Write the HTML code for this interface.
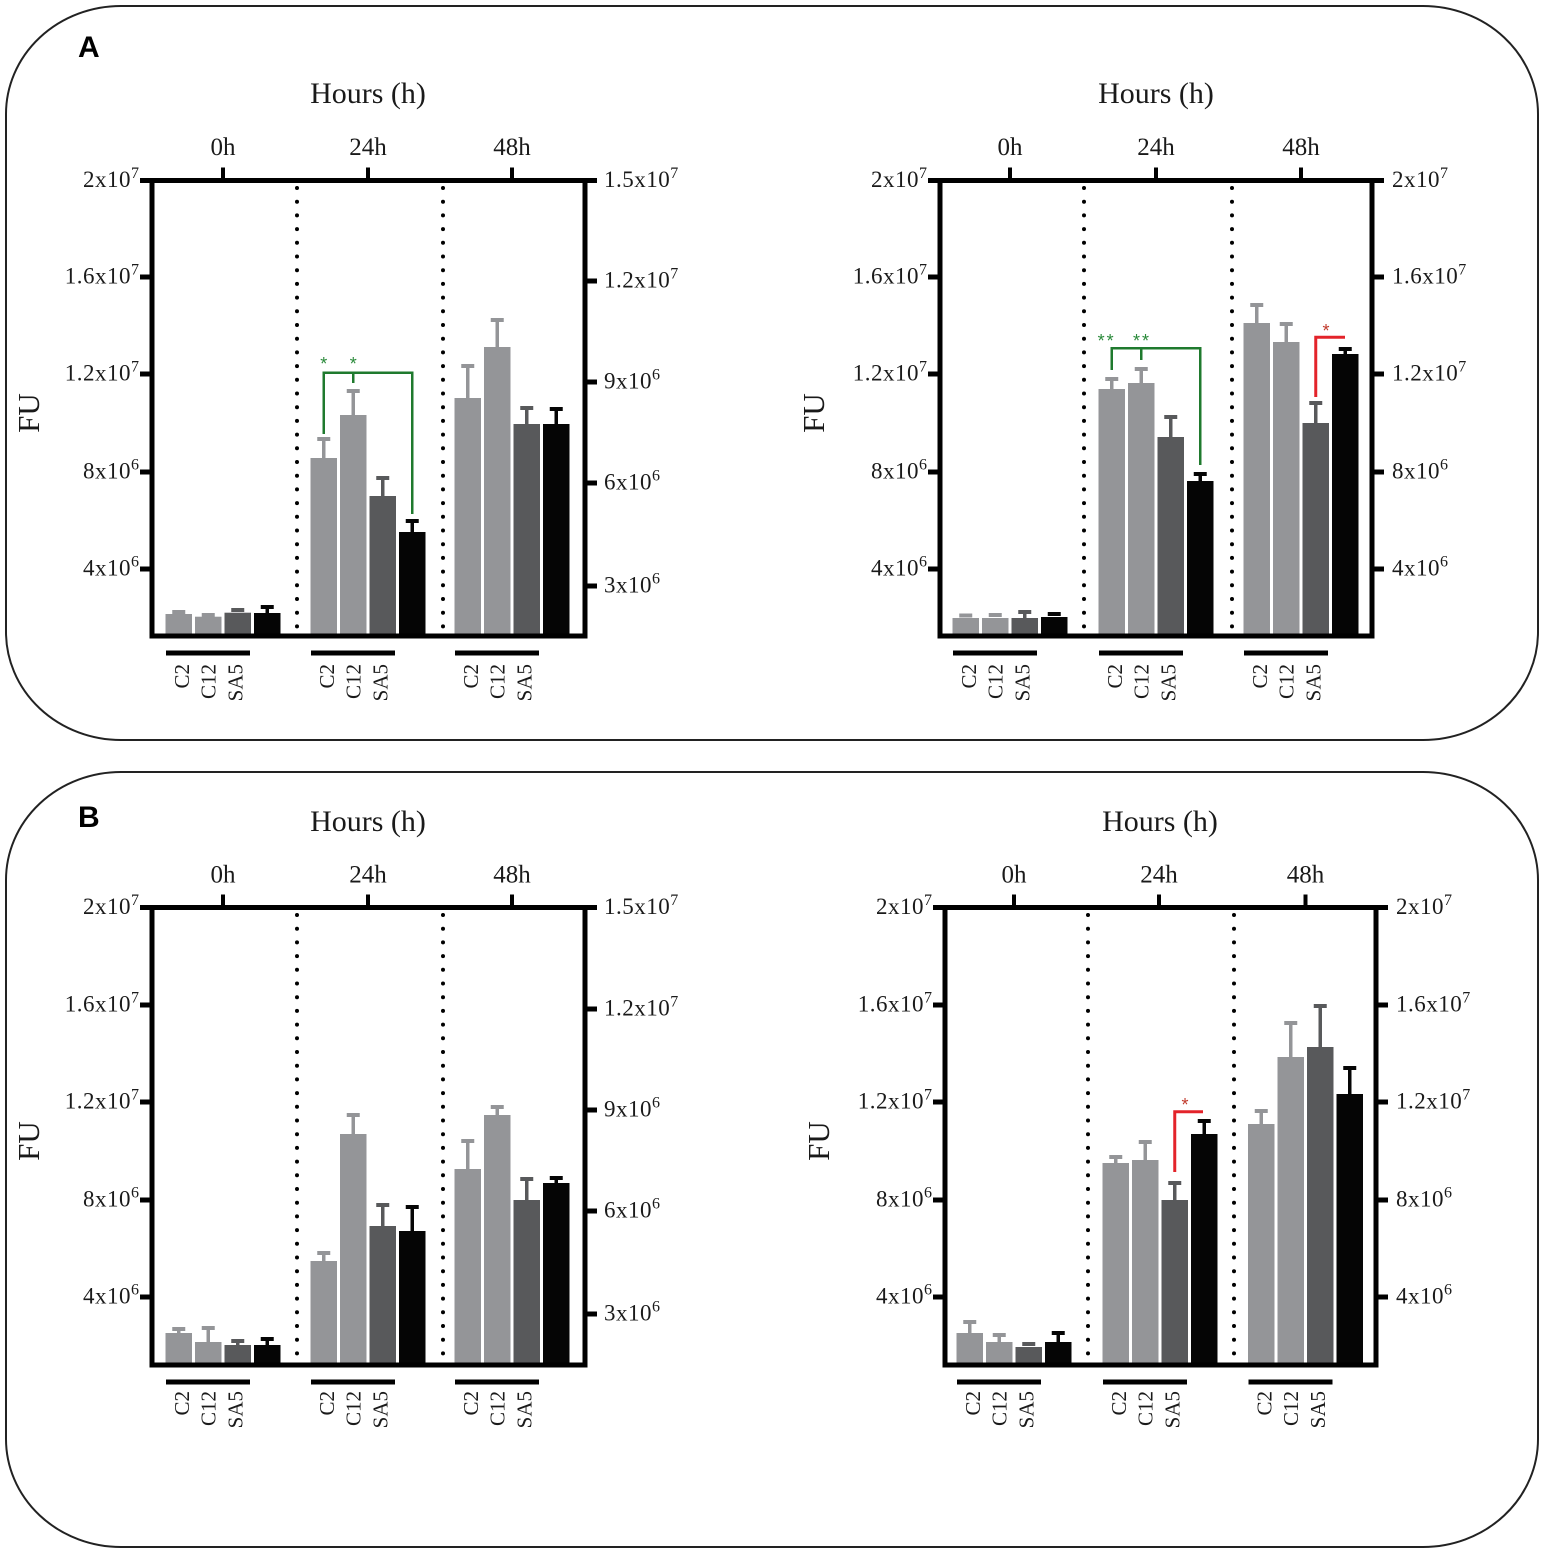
<!DOCTYPE html>
<html><head><meta charset="utf-8"><style>
html,body{margin:0;padding:0;background:#fff;}
svg{display:block;}
.t{font-family:"Liberation Serif",serif;font-size:23px;letter-spacing:0.5px;fill:#1a1a1a;}
.s{font-size:16px;letter-spacing:0;}
.h{font-family:"Liberation Serif",serif;font-size:25px;fill:#1a1a1a;text-anchor:middle;}
.hr{font-family:"Liberation Serif",serif;font-size:30px;fill:#1a1a1a;text-anchor:middle;}
.fu{font-family:"Liberation Serif",serif;font-size:31px;fill:#1a1a1a;text-anchor:middle;}
.g{font-family:"Liberation Serif",serif;font-size:21px;fill:#1a1a1a;text-anchor:end;}
.pl{font-family:"Liberation Sans",sans-serif;font-size:30px;font-weight:bold;fill:#000;}
.st{font-family:"Liberation Sans",sans-serif;font-size:18px;text-anchor:middle;}
</style></head><body>
<svg width="1547" height="1555" viewBox="0 0 1547 1555" xmlns="http://www.w3.org/2000/svg">
<rect x="0" y="0" width="1547" height="1555" fill="#fff"/>
<!-- panel borders -->
<rect x="6" y="6" width="1532" height="734" rx="115" ry="108" fill="none" stroke="#222" stroke-width="2"/>
<rect x="6" y="772" width="1532" height="775" rx="115" ry="108" fill="none" stroke="#222" stroke-width="2"/>
<text class="pl" x="78" y="57">A</text>
<text class="pl" x="78" y="827">B</text>

<!-- ================= A LEFT ================= -->
<text class="hr" x="368" y="103">Hours (h)</text>
<text class="h" x="223" y="155">0h</text><text class="h" x="368" y="155">24h</text><text class="h" x="512" y="155">48h</text>
<g stroke="#000" stroke-width="4"><line x1="223" y1="167.5" x2="223" y2="180.5"/><line x1="368" y1="167.5" x2="368" y2="180.5"/><line x1="512" y1="167.5" x2="512" y2="180.5"/></g>
<text class="fu" transform="translate(39,413) rotate(-90)">FU</text>
<g stroke="#000" stroke-width="4" stroke-linecap="round" stroke-dasharray="0 13.7"><line x1="297" y1="188" x2="297" y2="632"/><line x1="443" y1="188" x2="443" y2="632"/></g>
<!-- bars -->
<g fill="#949598"><rect x="165.5" y="614" width="26.5" height="22"/><rect x="195" y="616.7" width="26.5" height="19.3"/><rect x="310.5" y="458" width="26.5" height="178"/><rect x="340" y="415" width="26.5" height="221"/><rect x="454.5" y="398" width="26.5" height="238"/><rect x="484" y="347" width="26.5" height="289"/>
<rect x="172.25" y="610" width="13" height="4"/><rect x="201.75" y="613" width="13" height="4"/><rect x="317.25" y="437" width="13" height="4"/><rect x="346.75" y="389" width="13" height="4"/><rect x="461.25" y="364" width="13" height="4"/><rect x="490.75" y="318" width="13" height="4"/></g>
<g stroke="#949598" stroke-width="3.5"><line x1="323.75" y1="439" x2="323.75" y2="458"/><line x1="353.25" y1="391" x2="353.25" y2="415"/><line x1="467.75" y1="366" x2="467.75" y2="398"/><line x1="497.25" y1="320" x2="497.25" y2="347"/></g>
<g fill="#58595b"><rect x="224.5" y="612.7" width="26.5" height="23.3"/><rect x="369.5" y="496" width="26.5" height="140"/><rect x="513.5" y="424" width="26.5" height="212"/>
<rect x="231.25" y="608" width="13" height="4"/><rect x="376.25" y="476" width="13" height="4"/><rect x="520.25" y="406" width="13" height="4"/></g>
<g stroke="#58595b" stroke-width="3.5"><line x1="382.75" y1="478" x2="382.75" y2="496"/><line x1="526.75" y1="408" x2="526.75" y2="424"/></g>
<g fill="#050505"><rect x="254" y="613" width="26.5" height="23"/><rect x="399" y="532" width="26.5" height="104"/><rect x="543" y="424" width="26.5" height="212"/>
<rect x="260.75" y="605" width="13" height="4"/><rect x="405.75" y="519" width="13" height="4"/><rect x="549.75" y="407" width="13" height="4"/></g>
<g stroke="#050505" stroke-width="3.5"><line x1="267.25" y1="607" x2="267.25" y2="613"/><line x1="412.25" y1="521" x2="412.25" y2="532"/><line x1="556.25" y1="409" x2="556.25" y2="424"/></g>
<!-- bracket -->
<g fill="none" stroke="#1f7a2e" stroke-width="2.5"><path d="M323.75 434 V372.7 H412.25 V514"/><path d="M353.25 372.7 V383"/></g>
<text class="st" x="323.75" y="370" fill="#2a8a3a">*</text><text class="st" x="353.25" y="370" fill="#2a8a3a">*</text>
<!-- frame -->
<rect x="152" y="180.5" width="433" height="455.5" fill="none" stroke="#000" stroke-width="5"/>
<g stroke="#000" stroke-width="5"><line x1="140" y1="180.5" x2="152" y2="180.5"/><line x1="140" y1="277" x2="152" y2="277"/><line x1="140" y1="374" x2="152" y2="374"/><line x1="140" y1="472" x2="152" y2="472"/><line x1="140" y1="569" x2="152" y2="569"/>
<line x1="585" y1="180.5" x2="597" y2="180.5"/><line x1="585" y1="281" x2="597" y2="281"/><line x1="585" y1="382" x2="597" y2="382"/><line x1="585" y1="483" x2="597" y2="483"/><line x1="585" y1="586" x2="597" y2="586"/></g>
<g class="t" text-anchor="end"><text x="139" y="187">2x10<tspan class="s" dy="-9">7</tspan></text><text x="139" y="283.5">1.6x10<tspan class="s" dy="-9">7</tspan></text><text x="139" y="380.5">1.2x10<tspan class="s" dy="-9">7</tspan></text><text x="139" y="478.5">8x10<tspan class="s" dy="-9">6</tspan></text><text x="139" y="575.5">4x10<tspan class="s" dy="-9">6</tspan></text></g>
<g class="t"><text x="604" y="187">1.5x10<tspan class="s" dy="-9">7</tspan></text><text x="604" y="287.5">1.2x10<tspan class="s" dy="-9">7</tspan></text><text x="604" y="388.5">9x10<tspan class="s" dy="-9">6</tspan></text><text x="604" y="489.5">6x10<tspan class="s" dy="-9">6</tspan></text><text x="604" y="592.5">3x10<tspan class="s" dy="-9">6</tspan></text></g>
<g stroke="#000" stroke-width="5"><line x1="166" y1="653" x2="250" y2="653"/><line x1="311" y1="653" x2="395" y2="653"/><line x1="455" y1="653" x2="539" y2="653"/></g>
<g class="g"><text transform="translate(189,664) rotate(-90)">C2</text><text transform="translate(215.5,664) rotate(-90)">C12</text><text transform="translate(242.5,664) rotate(-90)">SA5</text>
<text transform="translate(334,664) rotate(-90)">C2</text><text transform="translate(360.5,664) rotate(-90)">C12</text><text transform="translate(387.5,664) rotate(-90)">SA5</text>
<text transform="translate(478,664) rotate(-90)">C2</text><text transform="translate(504.5,664) rotate(-90)">C12</text><text transform="translate(531.5,664) rotate(-90)">SA5</text></g>

<!-- ================= A RIGHT ================= -->
<text class="hr" x="1156" y="103">Hours (h)</text>
<text class="h" x="1010" y="155">0h</text><text class="h" x="1156" y="155">24h</text><text class="h" x="1301" y="155">48h</text>
<g stroke="#000" stroke-width="4"><line x1="1010" y1="167.5" x2="1010" y2="180.5"/><line x1="1156" y1="167.5" x2="1156" y2="180.5"/><line x1="1301" y1="167.5" x2="1301" y2="180.5"/></g>
<text class="fu" transform="translate(824,413) rotate(-90)">FU</text>
<g stroke="#000" stroke-width="4" stroke-linecap="round" stroke-dasharray="0 13.7"><line x1="1084" y1="188" x2="1084" y2="632"/><line x1="1232" y1="188" x2="1232" y2="632"/></g>
<g fill="#949598"><rect x="952.5" y="618" width="26.5" height="18"/><rect x="982" y="618" width="26.5" height="18"/><rect x="1098.5" y="389" width="26.5" height="247"/><rect x="1128" y="383" width="26.5" height="253"/><rect x="1243.5" y="323" width="26.5" height="313"/><rect x="1273" y="342" width="26.5" height="294"/>
<rect x="959.25" y="613.5" width="13" height="4"/><rect x="988.75" y="613" width="13" height="4"/><rect x="1105.25" y="377" width="13" height="4"/><rect x="1134.75" y="367" width="13" height="4"/><rect x="1250.25" y="303" width="13" height="4"/><rect x="1279.75" y="322" width="13" height="4"/></g>
<g stroke="#949598" stroke-width="3.5"><line x1="1111.75" y1="379" x2="1111.75" y2="389"/><line x1="1141.25" y1="369" x2="1141.25" y2="383"/><line x1="1256.75" y1="305" x2="1256.75" y2="323"/><line x1="1286.25" y1="324" x2="1286.25" y2="342"/></g>
<g fill="#58595b"><rect x="1011.5" y="618" width="26.5" height="18"/><rect x="1157.5" y="437" width="26.5" height="199"/><rect x="1302.5" y="423" width="26.5" height="213"/>
<rect x="1018.25" y="610" width="13" height="4"/><rect x="1164.25" y="415" width="13" height="4"/><rect x="1309.25" y="401" width="13" height="4"/></g>
<g stroke="#58595b" stroke-width="3.5"><line x1="1024.75" y1="612" x2="1024.75" y2="618"/><line x1="1170.75" y1="417" x2="1170.75" y2="437"/><line x1="1315.75" y1="403" x2="1315.75" y2="423"/></g>
<g fill="#050505"><rect x="1041" y="617" width="26.5" height="19"/><rect x="1187" y="481" width="26.5" height="155"/><rect x="1332" y="354" width="26.5" height="282"/>
<rect x="1047.75" y="612" width="13" height="4"/><rect x="1193.75" y="472" width="13" height="4"/><rect x="1338.75" y="347" width="13" height="4"/></g>
<g stroke="#050505" stroke-width="3.5"><line x1="1200.25" y1="474" x2="1200.25" y2="481"/><line x1="1345.25" y1="349" x2="1345.25" y2="354"/></g>
<g fill="none" stroke="#1f7a2e" stroke-width="2.5"><path d="M1111.75 370 V348.3 H1200.25 V465"/><path d="M1141.25 348.3 V360"/></g>
<text class="st" x="1106.6" y="347" fill="#2a8a3a" letter-spacing="2">**</text><text class="st" x="1142" y="347" fill="#2a8a3a" letter-spacing="2">**</text>
<g fill="none" stroke="#e3232a" stroke-width="3"><path d="M1315.75 397 V337.3 H1345"/></g>
<text class="st" x="1326" y="337" fill="#c0392b">*</text>
<rect x="940" y="180.5" width="432" height="455.5" fill="none" stroke="#000" stroke-width="5"/>
<g stroke="#000" stroke-width="5"><line x1="928" y1="180.5" x2="940" y2="180.5"/><line x1="928" y1="277" x2="940" y2="277"/><line x1="928" y1="374" x2="940" y2="374"/><line x1="928" y1="472" x2="940" y2="472"/><line x1="928" y1="569" x2="940" y2="569"/>
<line x1="1372" y1="180.5" x2="1384" y2="180.5"/><line x1="1372" y1="277" x2="1384" y2="277"/><line x1="1372" y1="374" x2="1384" y2="374"/><line x1="1372" y1="472" x2="1384" y2="472"/><line x1="1372" y1="569" x2="1384" y2="569"/></g>
<g class="t" text-anchor="end"><text x="927" y="187">2x10<tspan class="s" dy="-9">7</tspan></text><text x="927" y="283.5">1.6x10<tspan class="s" dy="-9">7</tspan></text><text x="927" y="380.5">1.2x10<tspan class="s" dy="-9">7</tspan></text><text x="927" y="478.5">8x10<tspan class="s" dy="-9">6</tspan></text><text x="927" y="575.5">4x10<tspan class="s" dy="-9">6</tspan></text></g>
<g class="t"><text x="1392" y="187">2x10<tspan class="s" dy="-9">7</tspan></text><text x="1392" y="283.5">1.6x10<tspan class="s" dy="-9">7</tspan></text><text x="1392" y="380.5">1.2x10<tspan class="s" dy="-9">7</tspan></text><text x="1392" y="478.5">8x10<tspan class="s" dy="-9">6</tspan></text><text x="1392" y="575.5">4x10<tspan class="s" dy="-9">6</tspan></text></g>
<g stroke="#000" stroke-width="5"><line x1="953" y1="653" x2="1037" y2="653"/><line x1="1099" y1="653" x2="1183" y2="653"/><line x1="1244" y1="653" x2="1328" y2="653"/></g>
<g class="g"><text transform="translate(976,664) rotate(-90)">C2</text><text transform="translate(1002.5,664) rotate(-90)">C12</text><text transform="translate(1029.5,664) rotate(-90)">SA5</text>
<text transform="translate(1122,664) rotate(-90)">C2</text><text transform="translate(1148.5,664) rotate(-90)">C12</text><text transform="translate(1175.5,664) rotate(-90)">SA5</text>
<text transform="translate(1267,664) rotate(-90)">C2</text><text transform="translate(1293.5,664) rotate(-90)">C12</text><text transform="translate(1320.5,664) rotate(-90)">SA5</text></g>

<!-- ================= B LEFT ================= -->
<text class="hr" x="368" y="831">Hours (h)</text>
<text class="h" x="223" y="882.5">0h</text><text class="h" x="368" y="882.5">24h</text><text class="h" x="512" y="882.5">48h</text>
<g stroke="#000" stroke-width="4"><line x1="223" y1="894.5" x2="223" y2="907.5"/><line x1="368" y1="894.5" x2="368" y2="907.5"/><line x1="512" y1="894.5" x2="512" y2="907.5"/></g>
<text class="fu" transform="translate(39,1141) rotate(-90)">FU</text>
<g stroke="#000" stroke-width="4" stroke-linecap="round" stroke-dasharray="0 13.7"><line x1="297" y1="915" x2="297" y2="1361"/><line x1="443" y1="915" x2="443" y2="1361"/></g>
<g fill="#949598"><rect x="165.5" y="1333" width="26.5" height="32"/><rect x="195" y="1342" width="26.5" height="23"/><rect x="310.5" y="1261" width="26.5" height="104"/><rect x="340" y="1134" width="26.5" height="231"/><rect x="454.5" y="1169" width="26.5" height="196"/><rect x="484" y="1115" width="26.5" height="250"/>
<rect x="172.25" y="1327" width="13" height="4"/><rect x="201.75" y="1326" width="13" height="4"/><rect x="317.25" y="1251" width="13" height="4"/><rect x="346.75" y="1113" width="13" height="4"/><rect x="461.25" y="1139" width="13" height="4"/><rect x="490.75" y="1105" width="13" height="4"/></g>
<g stroke="#949598" stroke-width="3.5"><line x1="178.75" y1="1329" x2="178.75" y2="1333"/><line x1="208.25" y1="1328" x2="208.25" y2="1342"/><line x1="323.75" y1="1253" x2="323.75" y2="1261"/><line x1="353.25" y1="1115" x2="353.25" y2="1134"/><line x1="467.75" y1="1141" x2="467.75" y2="1169"/><line x1="497.25" y1="1107" x2="497.25" y2="1115"/></g>
<g fill="#58595b"><rect x="224.5" y="1345" width="26.5" height="20"/><rect x="369.5" y="1226" width="26.5" height="139"/><rect x="513.5" y="1200" width="26.5" height="165"/>
<rect x="231.25" y="1339" width="13" height="4"/><rect x="376.25" y="1203" width="13" height="4"/><rect x="520.25" y="1177" width="13" height="4"/></g>
<g stroke="#58595b" stroke-width="3.5"><line x1="237.75" y1="1341" x2="237.75" y2="1345"/><line x1="382.75" y1="1205" x2="382.75" y2="1226"/><line x1="526.75" y1="1179" x2="526.75" y2="1200"/></g>
<g fill="#050505"><rect x="254" y="1345" width="26.5" height="20"/><rect x="399" y="1231" width="26.5" height="134"/><rect x="543" y="1183" width="26.5" height="182"/>
<rect x="260.75" y="1337" width="13" height="4"/><rect x="405.75" y="1205" width="13" height="4"/><rect x="549.75" y="1176" width="13" height="4"/></g>
<g stroke="#050505" stroke-width="3.5"><line x1="267.25" y1="1339" x2="267.25" y2="1345"/><line x1="412.25" y1="1207" x2="412.25" y2="1231"/><line x1="556.25" y1="1178" x2="556.25" y2="1183"/></g>
<rect x="152" y="907.5" width="433" height="457.5" fill="none" stroke="#000" stroke-width="5"/>
<g stroke="#000" stroke-width="5"><line x1="140" y1="907.5" x2="152" y2="907.5"/><line x1="140" y1="1005" x2="152" y2="1005"/><line x1="140" y1="1102" x2="152" y2="1102"/><line x1="140" y1="1200" x2="152" y2="1200"/><line x1="140" y1="1297" x2="152" y2="1297"/>
<line x1="585" y1="907.5" x2="597" y2="907.5"/><line x1="585" y1="1009" x2="597" y2="1009"/><line x1="585" y1="1110" x2="597" y2="1110"/><line x1="585" y1="1211" x2="597" y2="1211"/><line x1="585" y1="1314" x2="597" y2="1314"/></g>
<g class="t" text-anchor="end"><text x="139" y="914">2x10<tspan class="s" dy="-9">7</tspan></text><text x="139" y="1011.5">1.6x10<tspan class="s" dy="-9">7</tspan></text><text x="139" y="1108.5">1.2x10<tspan class="s" dy="-9">7</tspan></text><text x="139" y="1206.5">8x10<tspan class="s" dy="-9">6</tspan></text><text x="139" y="1303.5">4x10<tspan class="s" dy="-9">6</tspan></text></g>
<g class="t"><text x="604" y="914">1.5x10<tspan class="s" dy="-9">7</tspan></text><text x="604" y="1015.5">1.2x10<tspan class="s" dy="-9">7</tspan></text><text x="604" y="1116.5">9x10<tspan class="s" dy="-9">6</tspan></text><text x="604" y="1217.5">6x10<tspan class="s" dy="-9">6</tspan></text><text x="604" y="1320.5">3x10<tspan class="s" dy="-9">6</tspan></text></g>
<g stroke="#000" stroke-width="5"><line x1="166" y1="1382" x2="250" y2="1382"/><line x1="311" y1="1382" x2="395" y2="1382"/><line x1="455" y1="1382" x2="539" y2="1382"/></g>
<g class="g"><text transform="translate(189,1391) rotate(-90)">C2</text><text transform="translate(215.5,1391) rotate(-90)">C12</text><text transform="translate(242.5,1391) rotate(-90)">SA5</text>
<text transform="translate(334,1391) rotate(-90)">C2</text><text transform="translate(360.5,1391) rotate(-90)">C12</text><text transform="translate(387.5,1391) rotate(-90)">SA5</text>
<text transform="translate(478,1391) rotate(-90)">C2</text><text transform="translate(504.5,1391) rotate(-90)">C12</text><text transform="translate(531.5,1391) rotate(-90)">SA5</text></g>

<!-- ================= B RIGHT ================= -->
<text class="hr" x="1160" y="831">Hours (h)</text>
<text class="h" x="1014" y="882.5">0h</text><text class="h" x="1159" y="882.5">24h</text><text class="h" x="1305.5" y="882.5">48h</text>
<g stroke="#000" stroke-width="4"><line x1="1014" y1="894.5" x2="1014" y2="907.5"/><line x1="1159" y1="894.5" x2="1159" y2="907.5"/><line x1="1305.5" y1="894.5" x2="1305.5" y2="907.5"/></g>
<text class="fu" transform="translate(829,1141) rotate(-90)">FU</text>
<g stroke="#000" stroke-width="4" stroke-linecap="round" stroke-dasharray="0 13.7"><line x1="1088" y1="915" x2="1088" y2="1361"/><line x1="1234" y1="915" x2="1234" y2="1361"/></g>
<g fill="#949598"><rect x="956.5" y="1333" width="26.5" height="32"/><rect x="986" y="1342" width="26.5" height="23"/><rect x="1102.5" y="1163" width="26.5" height="202"/><rect x="1132" y="1160" width="26.5" height="205"/><rect x="1248" y="1124" width="26.5" height="241"/><rect x="1277.5" y="1057" width="26.5" height="308"/>
<rect x="963.25" y="1320" width="13" height="4"/><rect x="992.75" y="1333" width="13" height="4"/><rect x="1109.25" y="1155" width="13" height="4"/><rect x="1138.75" y="1140" width="13" height="4"/><rect x="1254.75" y="1109" width="13" height="4"/><rect x="1284.25" y="1021" width="13" height="4"/></g>
<g stroke="#949598" stroke-width="3.5"><line x1="969.75" y1="1322" x2="969.75" y2="1333"/><line x1="999.25" y1="1335" x2="999.25" y2="1342"/><line x1="1115.75" y1="1157" x2="1115.75" y2="1163"/><line x1="1145.25" y1="1142" x2="1145.25" y2="1160"/><line x1="1261.25" y1="1111" x2="1261.25" y2="1124"/><line x1="1290.75" y1="1023" x2="1290.75" y2="1057"/></g>
<g fill="#58595b"><rect x="1015.5" y="1347" width="26.5" height="18"/><rect x="1161.5" y="1200" width="26.5" height="165"/><rect x="1307" y="1047" width="26.5" height="318"/>
<rect x="1022.25" y="1342" width="13" height="4"/><rect x="1168.25" y="1181" width="13" height="4"/><rect x="1313.75" y="1004" width="13" height="4"/></g>
<g stroke="#58595b" stroke-width="3.5"><line x1="1174.75" y1="1183" x2="1174.75" y2="1200"/><line x1="1320.25" y1="1006" x2="1320.25" y2="1047"/></g>
<g fill="#050505"><rect x="1045" y="1342" width="26.5" height="23"/><rect x="1191" y="1134" width="26.5" height="231"/><rect x="1336.5" y="1094" width="26.5" height="271"/>
<rect x="1051.75" y="1331" width="13" height="4"/><rect x="1197.75" y="1119" width="13" height="4"/><rect x="1343.25" y="1066" width="13" height="4"/></g>
<g stroke="#050505" stroke-width="3.5"><line x1="1058.25" y1="1333" x2="1058.25" y2="1342"/><line x1="1204.25" y1="1121" x2="1204.25" y2="1134"/><line x1="1349.75" y1="1068" x2="1349.75" y2="1094"/></g>
<g fill="none" stroke="#e3232a" stroke-width="3"><path d="M1174.75 1172 V1111.7 H1203"/></g>
<text class="st" x="1185" y="1111" fill="#c0392b">*</text>
<rect x="945" y="907.5" width="431" height="457.5" fill="none" stroke="#000" stroke-width="5"/>
<g stroke="#000" stroke-width="5"><line x1="933" y1="907.5" x2="945" y2="907.5"/><line x1="933" y1="1005" x2="945" y2="1005"/><line x1="933" y1="1102" x2="945" y2="1102"/><line x1="933" y1="1200" x2="945" y2="1200"/><line x1="933" y1="1297" x2="945" y2="1297"/>
<line x1="1376" y1="907.5" x2="1388" y2="907.5"/><line x1="1376" y1="1005" x2="1388" y2="1005"/><line x1="1376" y1="1102" x2="1388" y2="1102"/><line x1="1376" y1="1200" x2="1388" y2="1200"/><line x1="1376" y1="1297" x2="1388" y2="1297"/></g>
<g class="t" text-anchor="end"><text x="932" y="914">2x10<tspan class="s" dy="-9">7</tspan></text><text x="932" y="1011.5">1.6x10<tspan class="s" dy="-9">7</tspan></text><text x="932" y="1108.5">1.2x10<tspan class="s" dy="-9">7</tspan></text><text x="932" y="1206.5">8x10<tspan class="s" dy="-9">6</tspan></text><text x="932" y="1303.5">4x10<tspan class="s" dy="-9">6</tspan></text></g>
<g class="t"><text x="1396" y="914">2x10<tspan class="s" dy="-9">7</tspan></text><text x="1396" y="1011.5">1.6x10<tspan class="s" dy="-9">7</tspan></text><text x="1396" y="1108.5">1.2x10<tspan class="s" dy="-9">7</tspan></text><text x="1396" y="1206.5">8x10<tspan class="s" dy="-9">6</tspan></text><text x="1396" y="1303.5">4x10<tspan class="s" dy="-9">6</tspan></text></g>
<g stroke="#000" stroke-width="5"><line x1="957" y1="1382" x2="1041" y2="1382"/><line x1="1103" y1="1382" x2="1187" y2="1382"/><line x1="1248.5" y1="1382" x2="1332.5" y2="1382"/></g>
<g class="g"><text transform="translate(980,1391) rotate(-90)">C2</text><text transform="translate(1006.5,1391) rotate(-90)">C12</text><text transform="translate(1033.5,1391) rotate(-90)">SA5</text>
<text transform="translate(1126,1391) rotate(-90)">C2</text><text transform="translate(1152.5,1391) rotate(-90)">C12</text><text transform="translate(1179.5,1391) rotate(-90)">SA5</text>
<text transform="translate(1271.5,1391) rotate(-90)">C2</text><text transform="translate(1298,1391) rotate(-90)">C12</text><text transform="translate(1325,1391) rotate(-90)">SA5</text></g>
</svg>
</body></html>
